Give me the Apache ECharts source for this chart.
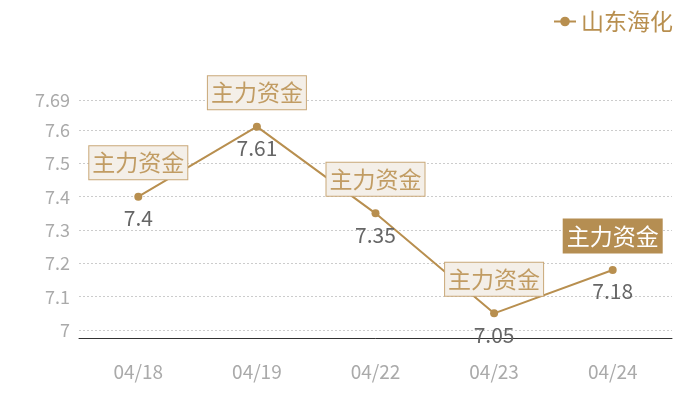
<!DOCTYPE html>
<html>
<head>
<meta charset="utf-8">
<script src="https://cdn.jsdelivr.net/npm/echarts@6/dist/echarts.min.js"></script>
<style>
    html, body { margin: 0; padding: 0; background: #fff; }
    #main { width: 700px; height: 400px; }
</style>
</head>
<body>
<div id="main"></div>
<script>
// 日期
var dates = ['04/18', '04/19', '04/22', '04/23', '04/24'];
// 收盘价
var prices = [7.4, 7.61, 7.35, 7.05, 7.18];
// 标注文字
var tags = ['主力资金', '主力资金', '主力资金', '主力资金', '主力资金'];
var seriesName = '山东海化';

var gold = '#b88f4f';
var font = '"Noto Sans CJK SC", "Microsoft YaHei", sans-serif';

var chart = echarts.init(document.getElementById('main'));

// 标注框，最后一个实心
var marks = [];
for (var i = 0; i < prices.length; i++) {
    var last = i === prices.length - 1;
    marks.push({
        coord: [i, prices[i]],
        value: tags[i],
        label: {
            show: true,
            formatter: '{c}',
            offset: [0, -34],
            color: last ? '#fff' : '#c19c63',
            fontSize: 23,
            fontFamily: font,
            backgroundColor: last ? '#b58e52' : '#f4efe8',
            borderColor: last ? '#b58e52' : '#c9a878',
            borderWidth: 1,
            padding: [6, 3, 4, 3]
        }
    });
}

var option = {
    animation: false,
    legend: {
        right: 22,
        top: 5,
        itemWidth: 22,
        itemHeight: 12,
        itemGap: 10,
        textStyle: { color: gold, fontSize: 23, fontFamily: font },
        data: [seriesName]
    },
    grid: { left: 79, right: 28, top: 100, bottom: 62 },
    xAxis: {
        type: 'category',
        data: dates,
        axisLine: { lineStyle: { color: '#333' } },
        axisTick: { show: false },
        axisLabel: { color: '#aaa', fontSize: 19, fontFamily: font, margin: 24 }
    },
    yAxis: {
        type: 'value',
        min: 6.976,
        max: 7.69,
        axisLine: { show: false },
        axisTick: { show: false },
        axisLabel: { color: '#aaa', fontSize: 18, fontFamily: font, margin: 9, showMinLabel: false },
        splitLine: { lineStyle: { color: '#ccc', type: [2, 2] } }
    },
    series: [{
        name: seriesName,
        type: 'line',
        data: prices,
        symbol: 'circle',
        symbolSize: 8,
        itemStyle: { color: gold },
        lineStyle: { color: gold, width: 2 },
        label: {
            show: true,
            position: 'bottom',
            distance: 7,
            color: '#666',
            fontSize: 21,
            fontFamily: font
        },
        markPoint: {
            symbol: 'rect',
            symbolSize: 1,
            itemStyle: { color: 'rgba(0,0,0,0)' },
            data: marks
        }
    }]
};
chart.setOption(option);
</script>
</body>
</html>
